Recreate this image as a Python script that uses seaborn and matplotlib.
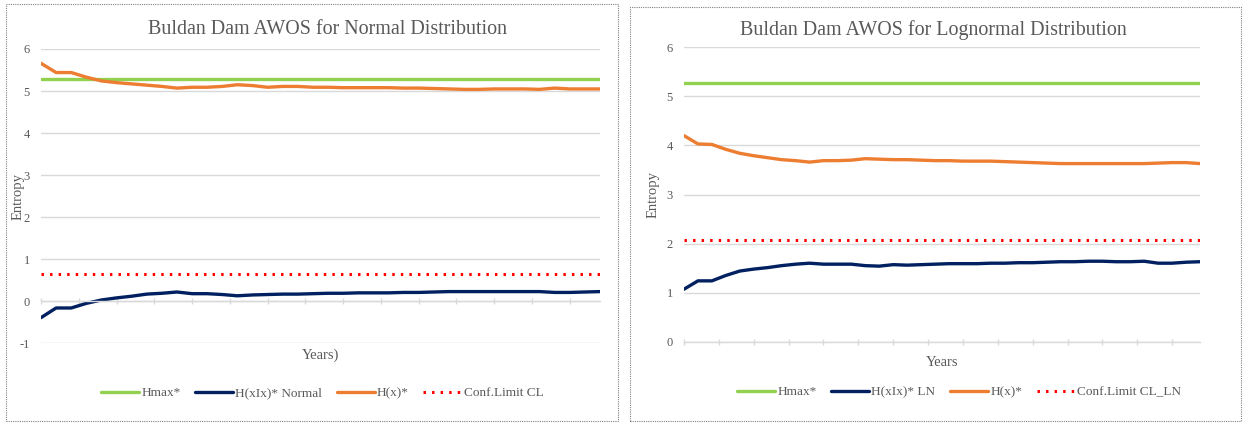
import numpy as np
import pandas as pd
import matplotlib
matplotlib.use("Agg")
import matplotlib.pyplot as plt
from matplotlib.patches import Rectangle
import seaborn as sns

# Year index along the horizontal axis
years = list(range(1, 39))

# Normal distribution panel
hmax = 5.28
cl_normal = 0.65
hx_normal = [5.66, 5.44, 5.44, 5.33, 5.24, 5.20, 5.17, 5.14, 5.11, 5.07,
             5.09, 5.09, 5.11, 5.15, 5.13, 5.09, 5.11, 5.11, 5.09, 5.09,
             5.08, 5.08, 5.08, 5.08, 5.07, 5.07, 5.06, 5.05, 5.04, 5.04,
             5.05, 5.05, 5.05, 5.04, 5.07, 5.05, 5.05, 5.05]
hxx_normal = [-0.39, -0.16, -0.16, -0.05, 0.03, 0.08, 0.12, 0.17, 0.19, 0.22,
              0.18, 0.18, 0.16, 0.13, 0.15, 0.16, 0.17, 0.17, 0.18, 0.19,
              0.19, 0.20, 0.20, 0.20, 0.21, 0.21, 0.22, 0.23, 0.23, 0.23,
              0.23, 0.23, 0.23, 0.23, 0.21, 0.21, 0.22, 0.23]

# Lognormal distribution panel
cl_ln = 2.07
hx_ln = [4.20, 4.03, 4.02, 3.92, 3.84, 3.79, 3.75, 3.71, 3.69, 3.66,
         3.69, 3.69, 3.70, 3.73, 3.72, 3.71, 3.71, 3.70, 3.69, 3.69,
         3.68, 3.68, 3.68, 3.67, 3.66, 3.65, 3.64, 3.63, 3.63, 3.63,
         3.63, 3.63, 3.63, 3.63, 3.64, 3.65, 3.65, 3.63]
hxx_ln = [1.07, 1.24, 1.24, 1.35, 1.44, 1.48, 1.51, 1.55, 1.58, 1.60,
          1.58, 1.58, 1.58, 1.55, 1.54, 1.57, 1.56, 1.57, 1.58, 1.59,
          1.59, 1.59, 1.60, 1.60, 1.61, 1.61, 1.62, 1.63, 1.63, 1.64,
          1.64, 1.63, 1.63, 1.64, 1.60, 1.60, 1.62, 1.63]

GREEN = "#92D050"
NAVY = "#002060"
ORANGE = "#ED7D31"
RED = "#FF0000"
GRID = "#D9D9D9"
TEXT = "#595959"

sns.set_theme(style="white")
plt.rcParams["font.family"] = ["Liberation Serif", "DejaVu Serif"]
plt.rcParams["axes.unicode_minus"] = False

fig = plt.figure(figsize=(12.45, 4.23), dpi=100)
W, H = 1245, 423

# dotted chart-area frames
for (x0, y0, x1, y1) in [(6, 4, 618, 421), (630, 7, 1241, 421)]:
    fig.patches.append(Rectangle((x0 / W, 1 - y1 / H), (x1 - x0) / W, (y1 - y0) / H,
                                 transform=fig.transFigure, fill=False,
                                 edgecolor="#808080", linewidth=0.8,
                                 linestyle=(0, (1, 1))))


def panel(ax, title, hxx, hx, cl, hxx_label, cl_label, xlabel, ylim,
          title_pos, xlabel_y, ylabel_x, legend_pos):
    n = len(years)
    df = pd.DataFrame({
        "Year": years,
        "Hmax*": [hmax] * n,
        hxx_label: hxx,
        "H(x)*": hx,
        cl_label: [cl] * n,
    })
    sns.lineplot(data=df, x="Year", y="Hmax*", ax=ax, color=GREEN,
                 linewidth=2.4, label="Hmax*")
    sns.lineplot(data=df, x="Year", y=hxx_label, ax=ax, color=NAVY,
                 linewidth=2.4, label=hxx_label)
    sns.lineplot(data=df, x="Year", y="H(x)*", ax=ax, color=ORANGE,
                 linewidth=2.4, label="H(x)*")
    sns.lineplot(data=df, x="Year", y=cl_label, ax=ax, color=RED,
                 linewidth=2.2, linestyle=(0, (0.8, 2.0)), label=cl_label)

    ax.set_xlim(years[0], years[-1])
    ax.set_ylim(*ylim)
    ax.set_yticks(range(ylim[0], ylim[1] + 1))
    ax.set_xticks(np.arange(years[0], years[-1], 2.5))
    ax.set_xticklabels([])
    ax.yaxis.grid(True, color=GRID, linewidth=1.0)
    ax.set_axisbelow(True)
    for s in ("left", "right", "top"):
        ax.spines[s].set_visible(False)
    ax.spines["bottom"].set_position(("data", 0))
    ax.spines["bottom"].set_color(GRID)
    ax.spines["bottom"].set_linewidth(1.0)
    ax.tick_params(axis="x", direction="inout", length=4, width=1.0,
                   color=GRID, bottom=True)
    ax.tick_params(axis="y", length=0, pad=8, labelsize=9, labelcolor=TEXT)

    ax.set_title(title, fontsize=14.4, color=TEXT, x=title_pos[0], y=title_pos[1],
                 va="baseline", pad=0)
    ax.set_xlabel(xlabel, fontsize=10.5, color=TEXT)
    ax.xaxis.label.set_va("center")
    ax.xaxis.set_label_coords(0.5, xlabel_y)
    ax.set_ylabel("Entropy", fontsize=10.5, color=TEXT)
    ax.yaxis.label.set_va("center")
    ax.yaxis.set_label_coords(ylabel_x, 0.5)

    ax.legend(loc="center", bbox_to_anchor=legend_pos, ncol=4, frameon=False,
              fontsize=9.5, labelcolor=TEXT, handlelength=2.9,
              handletextpad=0.15, columnspacing=1.1)


axL = fig.add_axes([41 / W, (H - 343.3) / H, 559 / W, 294.3 / H])
axR = fig.add_axes([684 / W, (H - 341.7) / H, 516 / W, 294.4 / H])

panel(axL, "Buldan Dam AWOS for Normal Distribution", hxx_normal, hx_normal,
      cl_normal, "H(xIx)* Normal", "Conf.Limit CL", "Years)", (-1, 6),
      (0.513, 1.051), -0.040, -0.041, (0.503, -0.169))
panel(axR, "Buldan Dam AWOS for Lognormal Distribution", hxx_ln, hx_ln,
      cl_ln, "H(xIx)* LN", "Conf.Limit CL_LN", "Years", (0, 6),
      (0.483, 1.042), -0.072, -0.060, (0.533, -0.171))

fig.savefig("out.png", dpi=100)
